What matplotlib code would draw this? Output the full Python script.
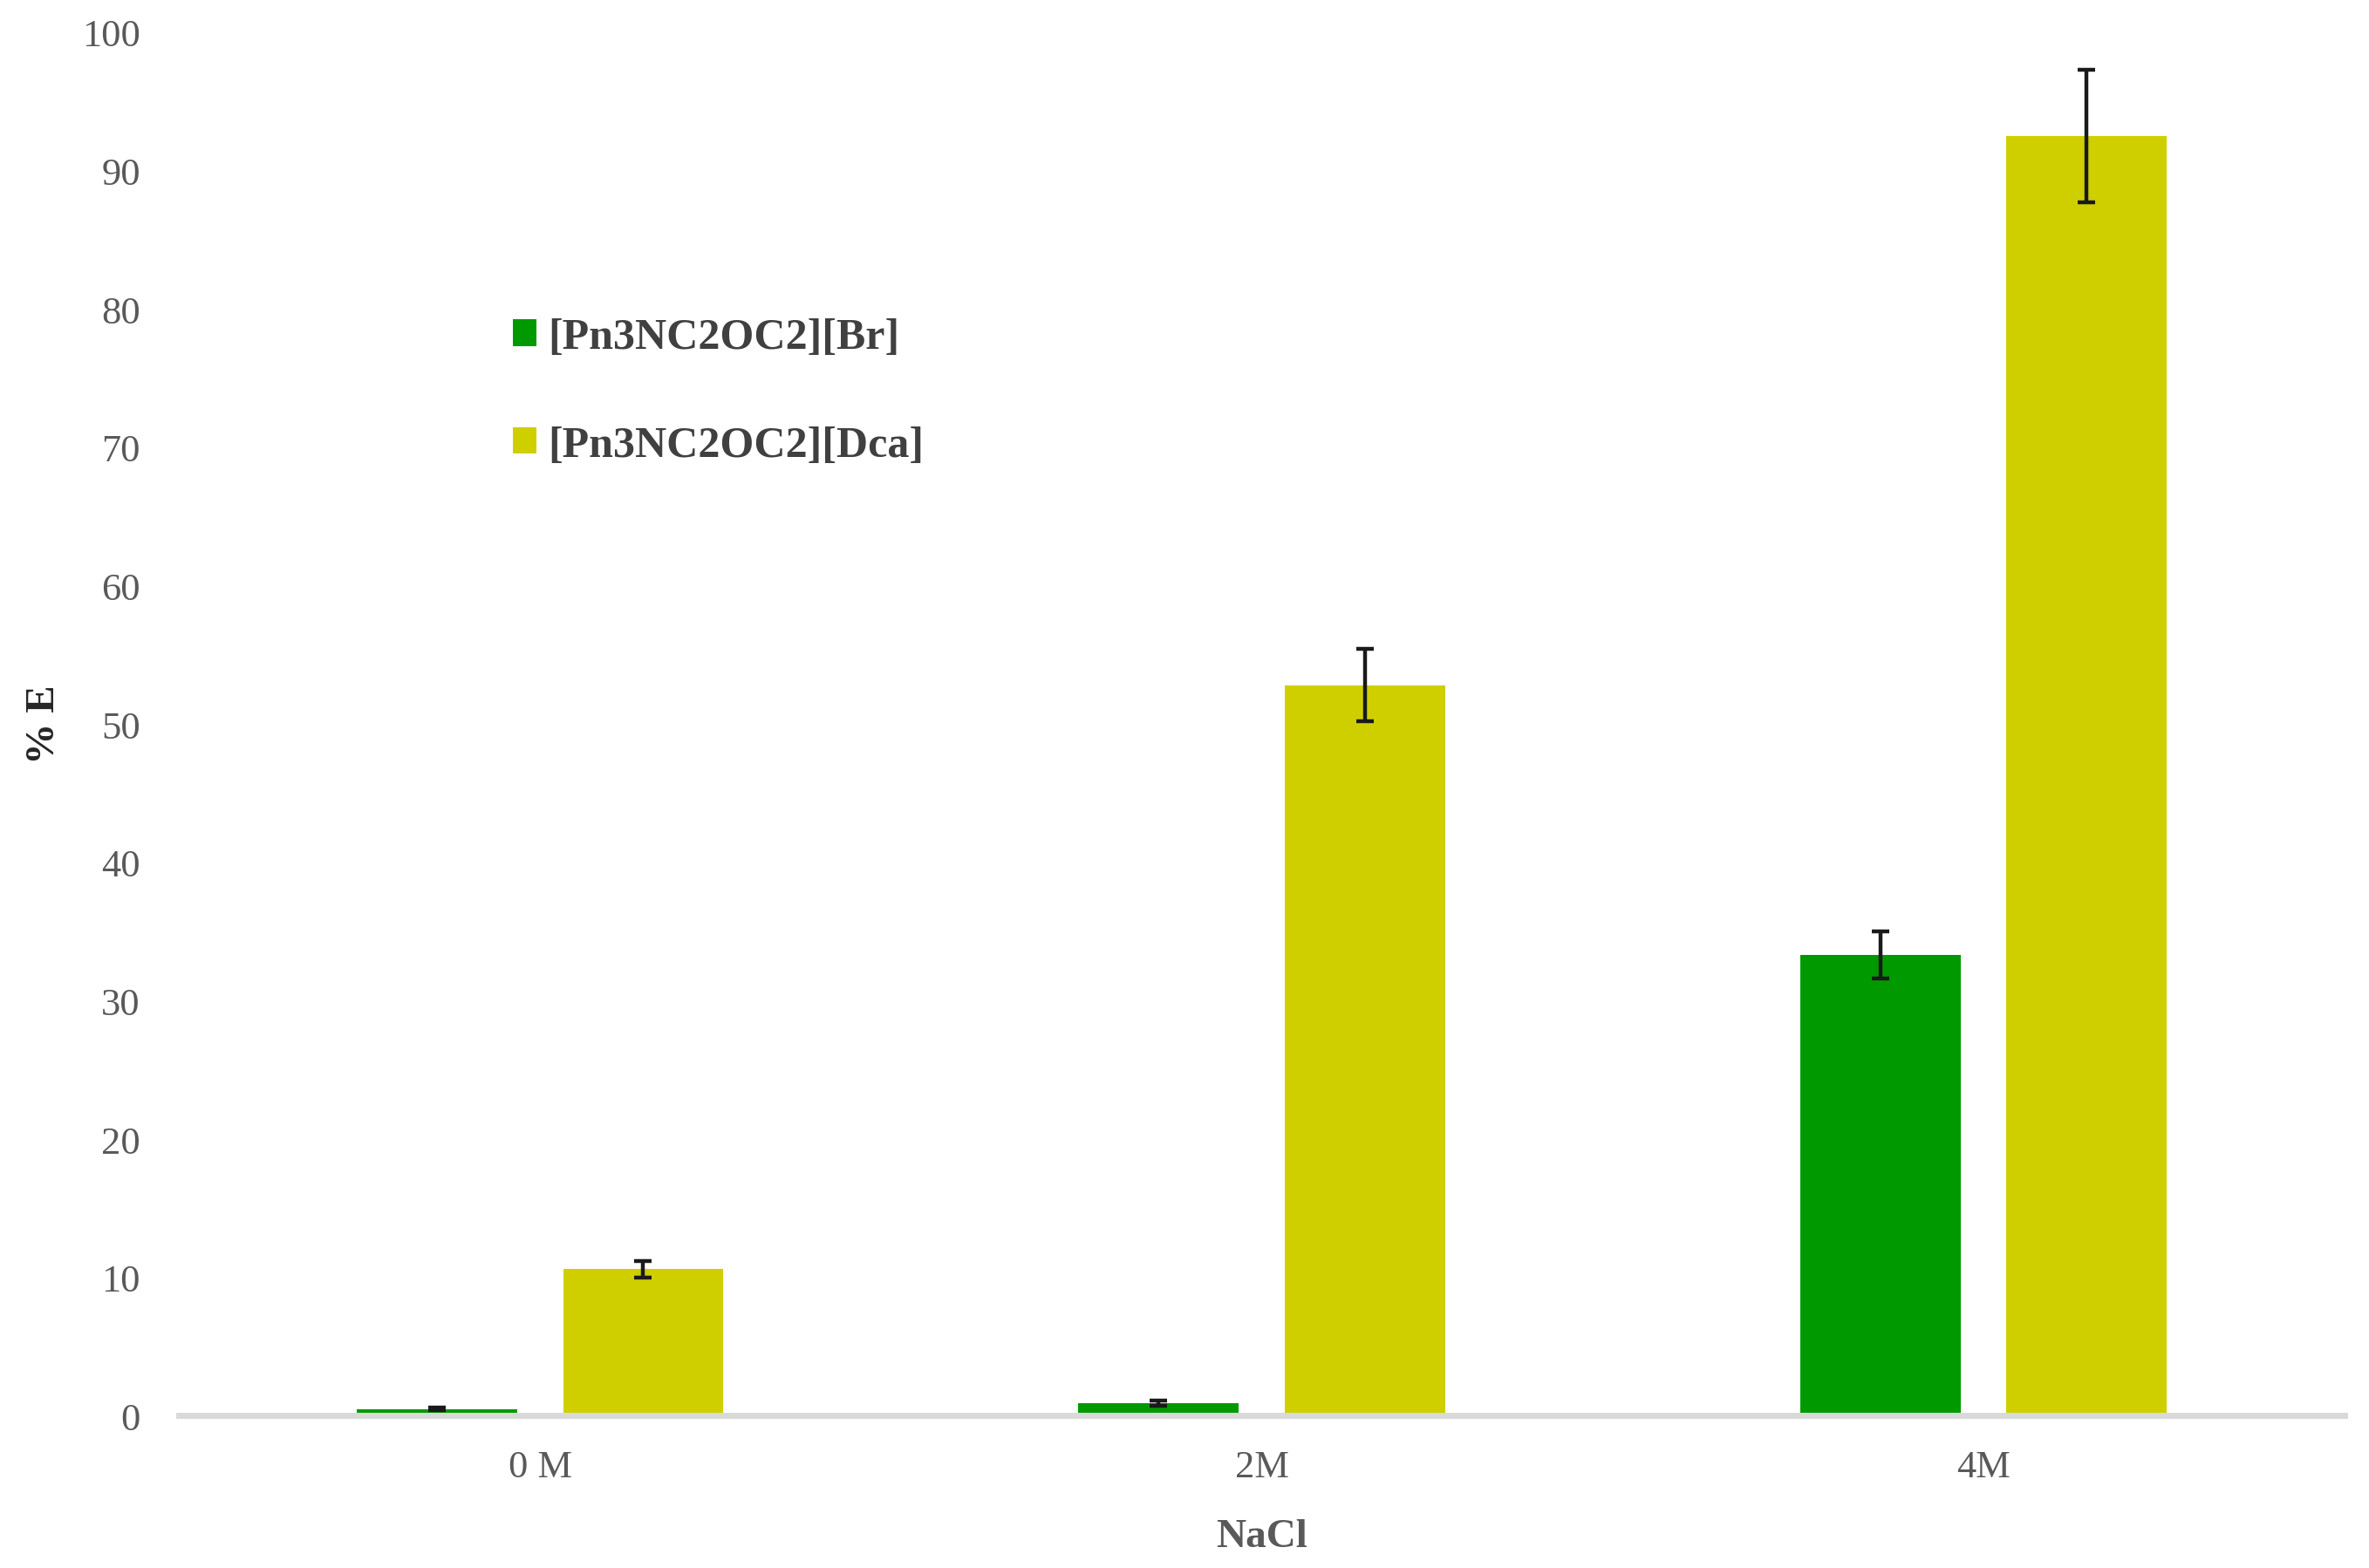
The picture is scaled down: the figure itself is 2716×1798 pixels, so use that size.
import numpy as np
import matplotlib.pyplot as plt

# data
categories = ['0 M', '2M', '4M']
series_names = ['[Pn3NC2OC2][Br]', '[Pn3NC2OC2][Dca]']
br_values = [0.5, 0.9, 33.3]
br_errors = [0.1, 0.2, 1.7]
dca_values = [10.6, 52.8, 92.5]
dca_errors = [0.6, 2.6, 4.8]

plt.rcParams['font.family'] = ['Liberation Serif', 'DejaVu Serif']

fig = plt.figure(figsize=(13.58, 8.995), dpi=200)
ax = fig.add_axes([0.0756, 0.097, 0.914, 0.882])

x = np.arange(len(categories))
width = 0.222
offset = 0.143
err_style = dict(ecolor='#1a1a1a', elinewidth=1.6, capsize=3.5, capthick=1.6)

ax.bar(x - offset, br_values, width, color='#009a00', label=series_names[0],
       yerr=br_errors, error_kw=err_style, zorder=2)
ax.bar(x + offset, dca_values, width, color='#cfcf00', label=series_names[1],
       yerr=dca_errors, error_kw=err_style, zorder=2)

ax.set_xlim(-0.5, 2.5)
ax.set_ylim(0, 100)
ax.set_yticks(np.arange(0, 101, 10))
ax.set_xticks(x)
ax.set_xticklabels(categories)

for side in ['top', 'right', 'left']:
    ax.spines[side].set_visible(False)
ax.spines['bottom'].set_color('#d9d9d9')
ax.spines['bottom'].set_linewidth(2.5)
ax.tick_params(axis='both', length=0, labelsize=16, labelcolor='#595959')
ax.tick_params(axis='y', pad=16)
ax.tick_params(axis='x', pad=14)

ax.set_ylabel('% E', fontsize=17, fontweight='bold', color='#262626', labelpad=8)
ax.set_xlabel('NaCl', fontsize=17, fontweight='bold', color='#595959', labelpad=14)

leg = ax.legend(loc='upper left', bbox_to_anchor=(0.136, 0.822), frameon=False,
                fontsize=18, handlelength=0.55, handleheight=0.55, handletextpad=0.25,
                labelspacing=1.55)
for t in leg.get_texts():
    t.set_fontweight('bold')
    t.set_color('#404040')

fig.savefig('out.png', dpi=200)
